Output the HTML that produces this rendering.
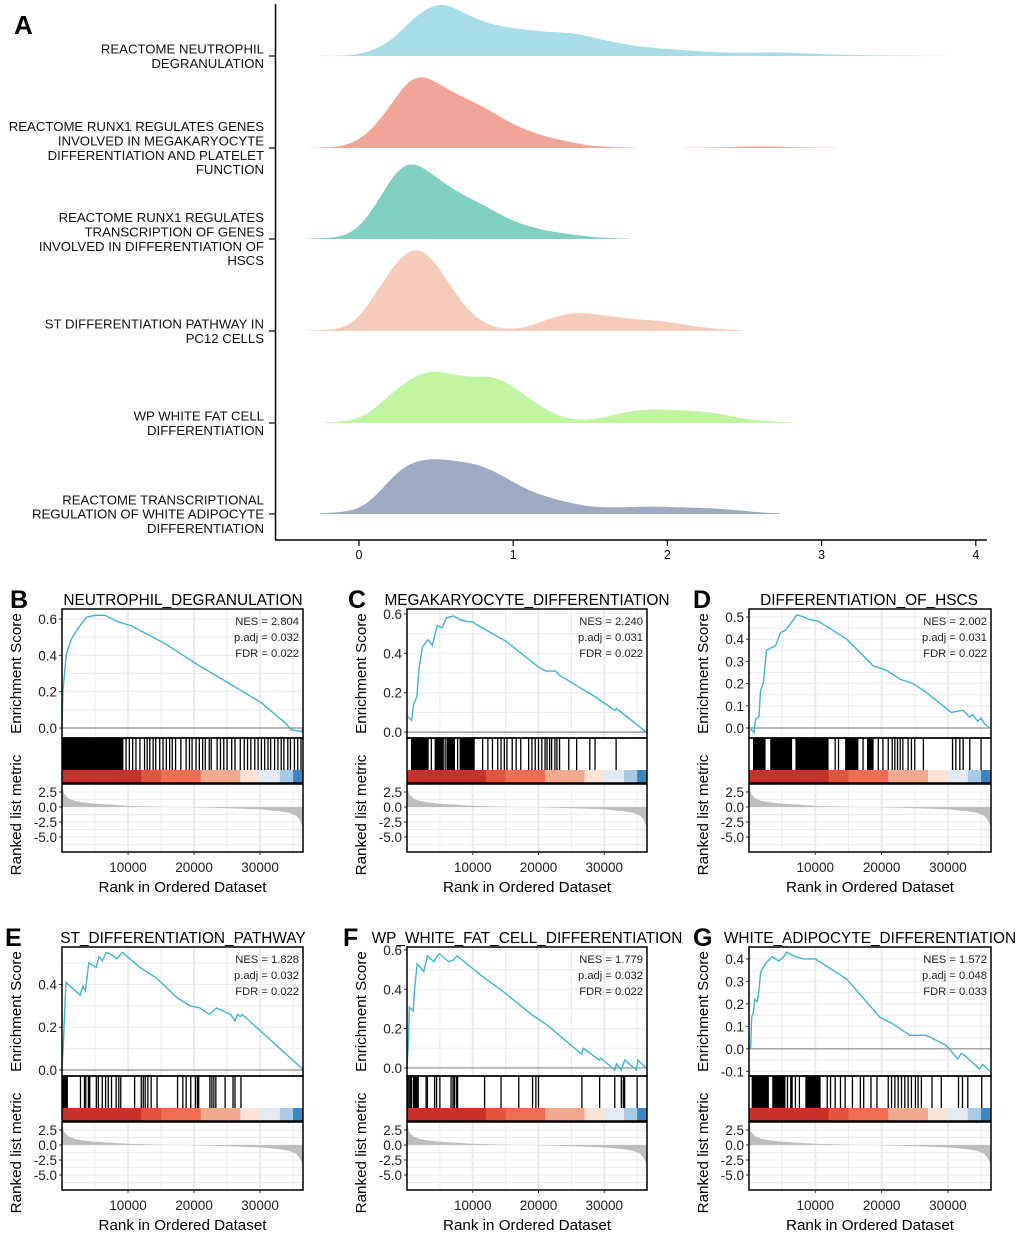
<!DOCTYPE html>
<html><head><meta charset="utf-8">
<style>
html,body{margin:0;padding:0;background:#fff;}
svg{display:block;font-family:"Liberation Sans",Arial,sans-serif;}
</style></head>
<body>
<svg id="fig" width="1020" height="1236" viewBox="0 0 1020 1236" xmlns="http://www.w3.org/2000/svg"></svg>
<script>
// ---------- Ridge plot data (panel A) ----------
const ridgeNames = [
  ["REACTOME NEUTROPHIL","DEGRANULATION"],
  ["REACTOME RUNX1 REGULATES GENES","INVOLVED IN MEGAKARYOCYTE","DIFFERENTIATION AND PLATELET","FUNCTION"],
  ["REACTOME RUNX1 REGULATES","TRANSCRIPTION OF GENES","INVOLVED IN DIFFERENTIATION OF","HSCS"],
  ["ST DIFFERENTIATION PATHWAY IN","PC12 CELLS"],
  ["WP WHITE FAT CELL","DIFFERENTIATION"],
  ["REACTOME TRANSCRIPTIONAL","REGULATION OF WHITE ADIPOCYTE","DIFFERENTIATION"]
];
const ridgeColors = ["#a6dde9","#f1a597","#80cfc0","#f7cbbb","#bff4a1","#9ea9c4"];
const ridge1X = [-0.25,0,0.2,0.35,0.53,0.7,0.85,1.0,1.2,1.4,1.6,1.8,2.0,2.3,2.5,2.7,3.0,3.3,3.6,3.83];
const ridge1D = [0,0.02,0.33,1.0,1.45,1.07,0.82,0.72,0.63,0.6,0.4,0.25,0.18,0.1,0.08,0.1,0.05,0.02,0.01,0];
const ridge2X = [-0.33,-0.1,0,0.1,0.2,0.36,0.5,0.65,0.8,1.0,1.2,1.5,1.8];
const ridge2D = [0,0.03,0.2,0.5,1.1,2.0,1.72,1.35,1.1,0.6,0.3,0.05,0];
const ridge2bX = [2.1,2.4,2.6,2.8,3.1];
const ridge2bD = [0,0.02,0.05,0.02,0];
const ridge3X = [-0.33,-0.1,0,0.1,0.2,0.31,0.45,0.6,0.8,1.0,1.2,1.5,1.75];
const ridge3D = [0,0.05,0.25,0.8,1.55,2.12,1.77,1.3,0.9,0.45,0.22,0.05,0];
const ridge4X = [-0.33,-0.1,0,0.1,0.2,0.36,0.5,0.6,0.7,0.8,0.95,1.1,1.25,1.4,1.6,1.8,2.0,2.2,2.48];
const ridge4D = [0,0.05,0.3,0.9,1.6,2.3,1.82,1.1,0.55,0.2,0.02,0.1,0.35,0.5,0.4,0.3,0.25,0.1,0];
const ridge5X = [-0.22,0,0.1,0.2,0.35,0.47,0.6,0.7,0.88,1.0,1.15,1.3,1.45,1.6,1.8,2.0,2.3,2.5,2.8];
const ridge5D = [0,0.08,0.35,0.75,1.2,1.4,1.27,1.18,1.24,0.95,0.5,0.15,0.05,0.15,0.35,0.35,0.28,0.1,0];
const ridge6X = [-0.25,0,0.1,0.2,0.3,0.45,0.6,0.8,0.95,1.1,1.3,1.5,1.7,1.9,2.1,2.3,2.5,2.73];
const ridge6D = [0,0.1,0.4,0.9,1.3,1.45,1.4,1.27,0.95,0.6,0.35,0.18,0.17,0.2,0.17,0.15,0.08,0];
const ridgeTicks = [0,1,2,3,4];

// ---------- GSEA panels data ----------
const titles = ["NEUTROPHIL_DEGRANULATION","MEGAKARYOCYTE_DIFFERENTIATION","DIFFERENTIATION_OF_HSCS","ST_DIFFERENTIATION_PATHWAY","WP_WHITE_FAT_CELL_DIFFERENTIATION","WHITE_ADIPOCYTE_DIFFERENTIATION"];
const letters = ["B","C","D","E","F","G"];
const nesVals = ["2.804","2.240","2.002","1.828","1.779","1.572"];
const padjVals = ["0.032","0.031","0.031","0.032","0.032","0.048"];
const fdrVals = ["0.022","0.022","0.022","0.022","0.022","0.033"];
const esTicksB = [0,0.2,0.4,0.6];
const esTicksC = [0,0.2,0.4,0.6];
const esTicksD = [0,0.1,0.2,0.3,0.4,0.5];
const esTicksE = [0,0.2,0.4];
const esTicksF = [0,0.2,0.4,0.6];
const esTicksG = [-0.1,0,0.1,0.2,0.3,0.4];
const rankTicks = [10000,20000,30000];
const metricTicks = [2.5,0,-2.5,-5];
const esRankB = [0,150,670,1440,2460,3740,5030,6560,8100,10670,15790,20920,26050,30150,33740,34770,36300,36500];
const esValB = [0.01,0.21,0.41,0.49,0.55,0.61,0.62,0.62,0.59,0.56,0.46,0.34,0.23,0.14,0.03,-0.01,-0.02,0.005];
const esRankC = [100,700,1000,1500,1850,2350,3200,3850,4600,5350,6000,7100,8100,9350,10100,10350,15100,20000,21100,22600,23100,26100,28600,31600,31850,36400];
const esValC = [0.08,0.06,0.14,0.18,0.33,0.43,0.47,0.44,0.54,0.53,0.58,0.59,0.57,0.56,0.56,0.55,0.46,0.33,0.31,0.31,0.29,0.23,0.18,0.11,0.12,0.0];
const esRankD = [250,750,1000,1500,1750,2150,2650,3250,4000,4750,5500,6250,7250,8250,9000,10500,14750,18750,20750,22750,24750,26750,30500,32250,33250,33750,34500,35000,35500,36350];
const esValD = [-0.005,-0.02,0.04,0.05,0.17,0.2,0.35,0.36,0.37,0.43,0.44,0.47,0.51,0.5,0.49,0.48,0.40,0.28,0.26,0.22,0.2,0.16,0.07,0.08,0.05,0.06,0.03,0.045,0.02,0.0];
const esRankE = [0,200,350,600,2750,3150,3550,4050,5200,5600,6100,6700,7450,8300,9150,11800,14300,17350,19400,20900,22300,23400,25500,26200,26600,27000,27300,36600];
const esValE = [0,0.12,0.23,0.41,0.35,0.39,0.37,0.50,0.48,0.53,0.51,0.55,0.54,0.52,0.55,0.48,0.43,0.34,0.30,0.29,0.26,0.29,0.26,0.23,0.26,0.25,0.26,0.0];
const esRankF = [0,200,350,950,1150,1550,2550,3100,4100,4600,4950,6350,7100,7600,11650,14200,19000,21250,26550,26800,29250,29450,31600,31850,32600,33100,34900,35100,36400];
const esValF = [0,0.12,0.31,0.29,0.40,0.53,0.49,0.57,0.54,0.57,0.58,0.54,0.55,0.57,0.46,0.40,0.27,0.22,0.07,0.10,0.04,0.05,-0.01,0.02,-0.01,0.04,-0.01,0.04,0.0];
const esRankG = [250,400,650,850,1250,1500,1750,2500,3500,4500,5250,5650,7000,8250,10000,14750,19750,21750,24250,26750,29750,31500,32000,32750,34750,35250,36350];
const esValG = [0,0.14,0.16,0.22,0.21,0.26,0.34,0.38,0.41,0.39,0.41,0.43,0.41,0.40,0.40,0.31,0.14,0.11,0.06,0.06,0.015,-0.045,-0.02,-0.035,-0.09,-0.07,-0.10];
const hitRangesB = [[0,9300]];
const hitsB = [9700,10200,10700,11200,11800,12500,12900,13300,13800,14200,14800,15300,15800,16300,16700,17200,18000,18800,19300,19700,20300,20800,21300,21700,22300,22600,23500,24000,24500,25000,25700,26200,27000,27600,28100,28600,29200,29700,30200,30700,31200,31600,32200,32700,33200,33600,34200,34600,35200,35700,36200];
const hitRangesC = [[600,3300],[4200,5600],[6000,7300],[8000,10300]];
const hitsC = [3700,5800,7700,11500,12300,13000,13800,14300,14800,15200,16000,16600,17300,18500,19000,19500,20000,20500,21000,21300,21700,22000,22500,22800,23200,24600,25800,27800,28600,31800];
const hitRangesD = [[600,2500],[3200,6500],[7000,12000],[14500,16500],[17800,18800]];
const hitsD = [13000,13500,17200,19500,20200,21000,21600,22000,22400,22800,23200,24000,24500,25000,26300,30700,31200,31800,32300,33300,35000];
const hitRangesE = [[0,900]];
const hitsE = [2800,3400,3600,4000,4100,4200,5200,5500,6100,6600,7000,7500,8200,8600,8900,11000,12000,12300,12600,13000,13500,14400,17500,18300,18800,19500,20200,20500,20700,22400,22700,23000,23300,24700,25900,26200,27100];
const hitRangesF = [[900,1800]];
const hitsF = [100,300,500,700,2900,3100,4200,4500,5000,6700,7000,7200,7500,7700,11800,14300,17000,19100,19600,20000,26600,29300,31600,32600,32900,33100,35000];
const hitRangesG = [[400,3000],[3500,5500],[6200,6600],[8500,10800]];
const hitsG = [5800,7000,7600,11800,12300,13000,13800,14500,15600,16800,17300,18400,19300,21000,21500,22000,22500,23000,23500,24000,24500,25100,25500,26000,27600,29000,31600,32200,33000,35100];
const barBreaks = [0,12000,15000,21000,27000,30000,33000,35000,36500];
const barColors = ["#c9302c","#e3533d","#f26c51","#f2a98e","#fbe2d7","#e3eaf3","#a9cae4","#3d85c2"];
const metricRank = [0,300,1000,2000,3000,5000,10000,15000,20000,25000,30000,33000,34500,35500,36000,36500];
const metricVal = [3.6,2.2,1.4,1.0,0.8,0.55,0.2,0.05,-0.05,-0.2,-0.4,-0.7,-1.0,-1.5,-2.2,-3.3];

const NS = "http://www.w3.org/2000/svg";
const svg = document.getElementById('fig');
function mk(tag, attrs, parent){const e=document.createElementNS(NS,tag);for(const k in attrs)e.setAttribute(k,attrs[k]);(parent||svg).appendChild(e);return e;}
function txt(s, attrs, parent){const t=mk('text',attrs,parent);t.textContent=s;return t;}
function interp(xs,ds,x){
  if(x<=xs[0])return ds[0]; if(x>=xs[xs.length-1])return ds[ds.length-1];
  for(let i=0;i<xs.length-1;i++){ if(x>=xs[i]&&x<=xs[i+1]){const t=(x-xs[i])/(xs[i+1]-xs[i]);return ds[i]+t*(ds[i+1]-ds[i]);} }
  return 0;
}
function smoothed(xs,ds){
  const step=0.01, n=Math.round((xs[xs.length-1]-xs[0])/step);
  let v=[]; for(let i=0;i<=n;i++) v.push(interp(xs,ds,xs[0]+i*step));
  for(let pass=0;pass<3;pass++){
    const w=6, o=[];
    for(let i=0;i<v.length;i++){let s=0,c=0;for(let k=-w;k<=w;k++){const j=i+k;if(j>=0&&j<v.length){s+=v[j];c++;}}o.push(s/c);}
    v=o;
  }
  return v.map((d,i)=>[xs[0]+i*step,d]);
}

// ---------- Panel A ----------
const gA = mk('g',{});


const rx = v => 359 + v*154.2;
const baselines = [56,148,239,331,423,514];
const ryScale = 38.5;
const letterA = txt('A',{x:14,y:34,'font-size':26,'font-weight':'bold'},gA);


const ridgeSets = [[ridge1X,ridge1D],[ridge2X,ridge2D],[ridge3X,ridge3D],[ridge4X,ridge4D],[ridge5X,ridge5D],[ridge6X,ridge6D]];
function drawRidge(xs,ds,i,name){
  const b=baselines[i];
  const pts=smoothed(xs,ds);
  let d='M'+rx(xs[0])+','+b+' '+pts.map(p=>'L'+rx(p[0]).toFixed(1)+','+(b-p[1]*ryScale).toFixed(1)).join(' ')+` L${rx(xs[xs.length-1])},${b} Z`;
  const p=mk('path',{d:d,fill:ridgeColors[i],stroke:'none'},gA);
  
  
}
ridgeSets.forEach((s,i)=>drawRidge(s[0],s[1],i,'ridge-'+(i+1)));
drawRidge(ridge2bX,ridge2bD,1,'ridge-2-tail');
const yAxA = mk('line',{x1:275.5,y1:4,x2:275.5,y2:540,stroke:'#000','stroke-width':1.5},gA);


const xAxA = mk('line',{x1:275,y1:540,x2:987,y2:540,stroke:'#000','stroke-width':1.5},gA);


ridgeNames.forEach((lines,i)=>{
  const b=baselines[i];
  mk('line',{x1:269,y1:b,x2:275,y2:b,stroke:'#000','stroke-width':1.2},gA);
  const lh=14.3, y0=b-(lines.length-1)*lh/2+4.6;
  const t=mk('text',{'font-size':13.2,'text-anchor':'end',fill:'#111'},gA);
  
  
  lines.forEach((l,k)=>{const ts=mk('tspan',{x:264,y:y0+k*lh},t);ts.textContent=l;});
});
ridgeTicks.forEach(v=>{
  mk('line',{x1:rx(v),y1:540,x2:rx(v),y2:546,stroke:'#000','stroke-width':1.2},gA);
  const t=txt(String(v),{x:rx(v),y:559,'font-size':12.5,'text-anchor':'middle'},gA);
  
  
});

// ---------- GSEA panels ----------
const panelCfg = [
  {left:62,right:303,top:609,min:-0.055,max:0.655,ticks:esTicksB,rk:esRankB,es:esValB,hr:hitRangesB,h:hitsB,lx:10,tx:183},
  {left:407,right:647,top:609,min:-0.030,max:0.625,ticks:esTicksC,rk:esRankC,es:esValC,hr:hitRangesC,h:hitsC,lx:348,tx:527},
  {left:749,right:991,top:609,min:-0.045,max:0.536,ticks:esTicksD,rk:esRankD,es:esValD,hr:hitRangesD,h:hitsD,lx:693,tx:869},
  {left:62,right:303,top:947,min:-0.028,max:0.575,ticks:esTicksE,rk:esRankE,es:esValE,hr:hitRangesE,h:hitsE,lx:5,tx:183},
  {left:407,right:647,top:947,min:-0.041,max:0.615,ticks:esTicksF,rk:esRankF,es:esValF,hr:hitRangesF,h:hitsF,lx:343,tx:527},
  {left:749,right:991,top:947,min:-0.121,max:0.453,ticks:esTicksG,rk:esRankG,es:esValG,hr:hitRangesG,h:hitsG,lx:693,tx:870}
];
const NMAX=36500;
panelCfg.forEach((c,pi)=>{
  const g=mk('g',{});
  
  
  const W=c.right-c.left;
  const xs=r=>c.left+r/NMAX*W;
  const esTop=c.top, esBot=c.top+129;
  const ys=v=>esBot-(v-c.min)/(c.max-c.min)*(esBot-esTop);
  const hitTop=esBot, hitBot=esBot+32, barBot=esBot+45;
  const rTop=esBot+46, rBot=esBot+114, r0=rTop+23;
  const ym=v=>r0-v*6;
  const L=txt(letters[pi],{x:c.lx,y:c.top-1,'font-size':25,'font-weight':'bold'},g);
  
  
  const T=txt(titles[pi],{x:c.tx,y:c.top-4,'font-size':15.4,'text-anchor':'middle'},g);
  
  
  for(let r=5000;r<NMAX;r+=5000){mk('line',{x1:xs(r),y1:esTop,x2:xs(r),y2:esBot,stroke:'#ebebeb','stroke-width':r%10000?1:2},g);}
  const tk=c.ticks, step=tk[1]-tk[0];
  for(let v=tk[0]-step/2;v<c.max;v+=step/2){ if(v>c.min) mk('line',{x1:c.left,y1:ys(v),x2:c.right,y2:ys(v),stroke:'#ebebeb','stroke-width':1},g);}
  mk('line',{x1:c.left,y1:ys(0),x2:c.right,y2:ys(0),stroke:'#8c8c8c','stroke-width':1.2},g);
  const line=mk('polyline',{points:c.rk.map((r,j)=>xs(r)+','+ys(c.es[j])).join(' '),fill:'none',stroke:'#3fb4d3','stroke-width':1.4},g);
  
  
  tk.forEach(v=>{
    mk('line',{x1:c.left-3,y1:ys(v),x2:c.left,y2:ys(v),stroke:'#333'},g);
    const t=txt(v.toFixed(1),{x:c.left-5,y:ys(v)+5,'font-size':13.5,'text-anchor':'end',fill:'#222'},g);
    
    
  });
  const st=[['NES = ',nesVals[pi]],['p.adj = ',padjVals[pi]],['FDR = ',fdrVals[pi]]];
  st.forEach((s,k)=>{const t=txt(s[0]+s[1],{x:c.right-4,y:esTop+16+k*16,'font-size':11.2,'text-anchor':'end',fill:'#222'},g);
    
    });
  mk('rect',{x:c.left,y:esTop,width:W,height:esBot-esTop,fill:'none',stroke:'#000','stroke-width':1.5},g);
  c.hr.forEach(h=>{const r=mk('rect',{x:xs(h[0]),y:hitTop,width:xs(h[1])-xs(h[0]),height:hitBot-hitTop,fill:'#000'},g);
    
    });
  c.h.forEach(h=>{const l=mk('line',{x1:xs(h),y1:hitTop,x2:xs(h),y2:hitBot,stroke:'#000','stroke-width':1.3},g);
    
    });
  barColors.forEach((col,k)=>{const r=mk('rect',{x:xs(barBreaks[k]),y:hitBot,width:xs(barBreaks[k+1])-xs(barBreaks[k])+0.5,height:barBot-hitBot,fill:col},g);
    
    });
  mk('rect',{x:c.left,y:hitTop,width:W,height:barBot-hitTop,fill:'none',stroke:'#000','stroke-width':1.5},g);
  for(let r=5000;r<NMAX;r+=5000){mk('line',{x1:xs(r),y1:rTop,x2:xs(r),y2:rBot,stroke:'#ebebeb','stroke-width':r%10000?1:2},g);}
  for(let v=3.75;v>-7.5;v-=1.25){mk('line',{x1:c.left,y1:ym(v),x2:c.right,y2:ym(v),stroke:'#ebebeb','stroke-width':1},g);}
  const ap='M'+xs(0)+','+ym(0)+' '+metricRank.map((r,j)=>'L'+xs(r)+','+ym(metricVal[j])).join(' ')+' L'+xs(NMAX)+','+ym(0)+' Z';
  const area=mk('path',{d:ap,fill:'#bdbdbd'},g);
  
  
  metricTicks.forEach(v=>{
    mk('line',{x1:c.left-3,y1:ym(v),x2:c.left,y2:ym(v),stroke:'#333'},g);
    const t=txt(v.toFixed(1),{x:c.left-5,y:ym(v)+5,'font-size':13.5,'text-anchor':'end',fill:'#222'},g);
    
    
  });
  mk('rect',{x:c.left,y:rTop,width:W,height:rBot-rTop,fill:'none',stroke:'#000','stroke-width':1.5},g);
  rankTicks.forEach(v=>{
    mk('line',{x1:xs(v),y1:rBot,x2:xs(v),y2:rBot+3,stroke:'#333'},g);
    const t=txt(String(v),{x:xs(v),y:rBot+20,'font-size':13.5,'text-anchor':'middle',fill:'#222'},g);
    
    
  });
  const xt=txt('Rank in Ordered Dataset',{x:(c.left+c.right)/2,y:rBot+40,'font-size':15.2,'text-anchor':'middle'},g);
  
  
  const ey=(esTop+esBot)/2, ex=c.left-41;
  const yt=txt('Enrichment Score',{x:ex,y:ey,'font-size':15.2,'text-anchor':'middle',transform:`rotate(-90 ${ex} ${ey})`},g);
  
  
  const my=(hitTop+rBot)/2+20, mx=c.left-41;
  const yt2=txt('Ranked list metric',{x:mx,y:my,'font-size':15.2,'text-anchor':'middle',transform:`rotate(-90 ${mx} ${my})`},g);
  
  
});
</script>
</body></html>
